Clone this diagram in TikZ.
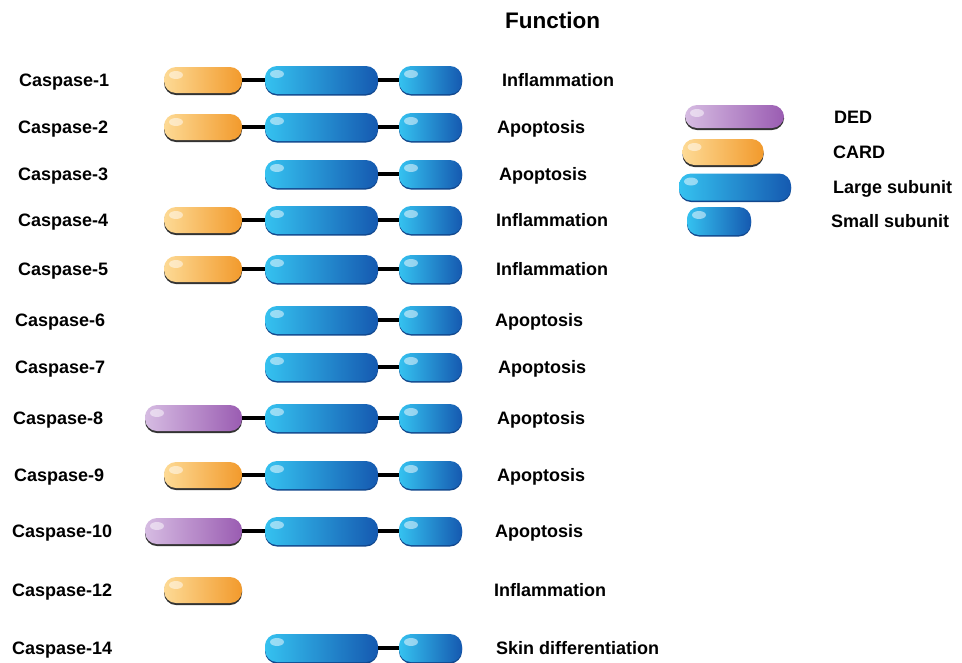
\documentclass[tikz,border=0pt]{standalone}
\usepackage{fontspec}
\setmainfont{Liberation Sans}
\usetikzlibrary{shadows}
\definecolor{orL}{HTML}{FDDA95}
\definecolor{orD}{HTML}{F29A2C}
\definecolor{puL}{HTML}{D6BCE2}
\definecolor{puD}{HTML}{9A5CB2}
\definecolor{blL}{HTML}{35C2F0}
\definecolor{blD}{HTML}{1559B0}
\tikzset{
  pillbase/.style={rectangle, rounded corners=12pt, inner sep=0pt,
    path picture={\fill[white,opacity=0.5] ([xshift=12pt,yshift=-8pt]path picture bounding box.north west) ellipse (7pt and 4pt);}},
  card/.style={pillbase, minimum width=78pt, minimum height=26pt, left color=orL, right color=orD,
    general shadow={fill=black!80, shadow yshift=-2pt}},
  ded/.style={pillbase, minimum width=97pt, minimum height=26pt, left color=puL, right color=puD,
    general shadow={fill=black!80, shadow yshift=-2pt}},
  large/.style={pillbase, minimum width=113pt, minimum height=28pt, left color=blL, right color=blD,
    general shadow={fill=blD!80!black, shadow yshift=-1.5pt}},
  small/.style={pillbase, minimum width=63pt, minimum height=28pt, left color=blL, right color=blD,
    general shadow={fill=blD!80!black, shadow yshift=-1.5pt}},
  linker/.style={line width=3.4pt, black},
  lab/.style={anchor=base west, font=\fontsize{18}{20}\selectfont\bfseries, inner sep=0pt},
  fun/.style={anchor=base west, font=\fontsize{18}{20}\selectfont\bfseries, inner sep=0pt},
  leg/.style={anchor=base west, font=\fontsize{18}{20}\selectfont\bfseries, inner sep=0pt},
}
\begin{document}
\begin{tikzpicture}[x=1pt,y=-1pt]
\useasboundingbox (0,0) rectangle (962,662);
\fill[white] (0,0) rectangle (962,662);
\node[anchor=base, inner sep=0pt, font=\fontsize{22.5}{24}\selectfont\bfseries] (title) at (552.5,28) {Function};

% Row 1
\node[lab] (n1) at (19,86) {Caspase-1};
\node[card] (p1) at (203,80) {};
\node[large] (a1) at (321.5,80) {};
\node[small] (b1) at (430.5,80) {};
\draw[linker] (p1.east) -- (a1.west); \draw[linker] (a1.east) -- (b1.west);
\node[fun] (f1) at (502,86) {Inflammation};
% Row 2
\node[lab] (n2) at (18,133) {Caspase-2};
\node[card] (p2) at (203,127) {};
\node[large] (a2) at (321.5,127) {};
\node[small] (b2) at (430.5,127) {};
\draw[linker] (p2.east) -- (a2.west); \draw[linker] (a2.east) -- (b2.west);
\node[fun] (f2) at (497,133) {Apoptosis};
% Row 3
\node[lab] (n3) at (18,180) {Caspase-3};
\node[large] (a3) at (321.5,174) {};
\node[small] (b3) at (430.5,174) {};
\draw[linker] (a3.east) -- (b3.west);
\node[fun] (f3) at (499,180) {Apoptosis};
% Row 4
\node[lab] (n4) at (18,226) {Caspase-4};
\node[card] (p4) at (203,220) {};
\node[large] (a4) at (321.5,220) {};
\node[small] (b4) at (430.5,220) {};
\draw[linker] (p4.east) -- (a4.west); \draw[linker] (a4.east) -- (b4.west);
\node[fun] (f4) at (496,226) {Inflammation};
% Row 5
\node[lab] (n5) at (18,275) {Caspase-5};
\node[card] (p5) at (203,269) {};
\node[large] (a5) at (321.5,269) {};
\node[small] (b5) at (430.5,269) {};
\draw[linker] (p5.east) -- (a5.west); \draw[linker] (a5.east) -- (b5.west);
\node[fun] (f5) at (496,275) {Inflammation};
% Row 6
\node[lab] (n6) at (15,326) {Caspase-6};
\node[large] (a6) at (321.5,320) {};
\node[small] (b6) at (430.5,320) {};
\draw[linker] (a6.east) -- (b6.west);
\node[fun] (f6) at (495,326) {Apoptosis};
% Row 7
\node[lab] (n7) at (15,373) {Caspase-7};
\node[large] (a7) at (321.5,367) {};
\node[small] (b7) at (430.5,367) {};
\draw[linker] (a7.east) -- (b7.west);
\node[fun] (f7) at (498,373) {Apoptosis};
% Row 8
\node[lab] (n8) at (13,424) {Caspase-8};
\node[ded] (p8) at (193.5,418) {};
\node[large] (a8) at (321.5,418) {};
\node[small] (b8) at (430.5,418) {};
\draw[linker] (p8.east) -- (a8.west); \draw[linker] (a8.east) -- (b8.west);
\node[fun] (f8) at (497,424) {Apoptosis};
% Row 9
\node[lab] (n9) at (14,481) {Caspase-9};
\node[card] (p9) at (203,475) {};
\node[large] (a9) at (321.5,475) {};
\node[small] (b9) at (430.5,475) {};
\draw[linker] (p9.east) -- (a9.west); \draw[linker] (a9.east) -- (b9.west);
\node[fun] (f9) at (497,481) {Apoptosis};
% Row 10
\node[lab] (n10) at (12,537) {Caspase-10};
\node[ded] (p10) at (193.5,531) {};
\node[large] (a10) at (321.5,531) {};
\node[small] (b10) at (430.5,531) {};
\draw[linker] (p10.east) -- (a10.west); \draw[linker] (a10.east) -- (b10.west);
\node[fun] (f10) at (495,537) {Apoptosis};
% Row 12
\node[lab] (n12) at (12,596) {Caspase-12};
\node[card] (p12) at (203,590) {};
\node[fun] (f12) at (494,596) {Inflammation};
% Row 14
\node[lab] (n14) at (12,654) {Caspase-14};
\node[large] (a14) at (321.5,648) {};
\node[small] (b14) at (430.5,648) {};
\draw[linker] (a14.east) -- (b14.west);
\node[fun] (f14) at (496,654) {Skin differentiation};

% Legend
\node[ded, minimum width=99pt, minimum height=23pt] (gd) at (734.5,116.5) {};
\node[card, minimum width=81pt, minimum height=26pt] (gc) at (723,152) {};
\node[large, minimum width=112pt, minimum height=27pt] (gl) at (735,187) {};
\node[small, minimum width=64pt, minimum height=28pt] (gs) at (719,221) {};
\node[leg] (td) at (834,123) {DED};
\node[leg] (tc) at (833,158) {CARD};
\node[leg] (tl) at (833,193) {Large subunit};
\node[leg] (ts) at (831,227) {Small subunit};
\end{tikzpicture}
\end{document}
